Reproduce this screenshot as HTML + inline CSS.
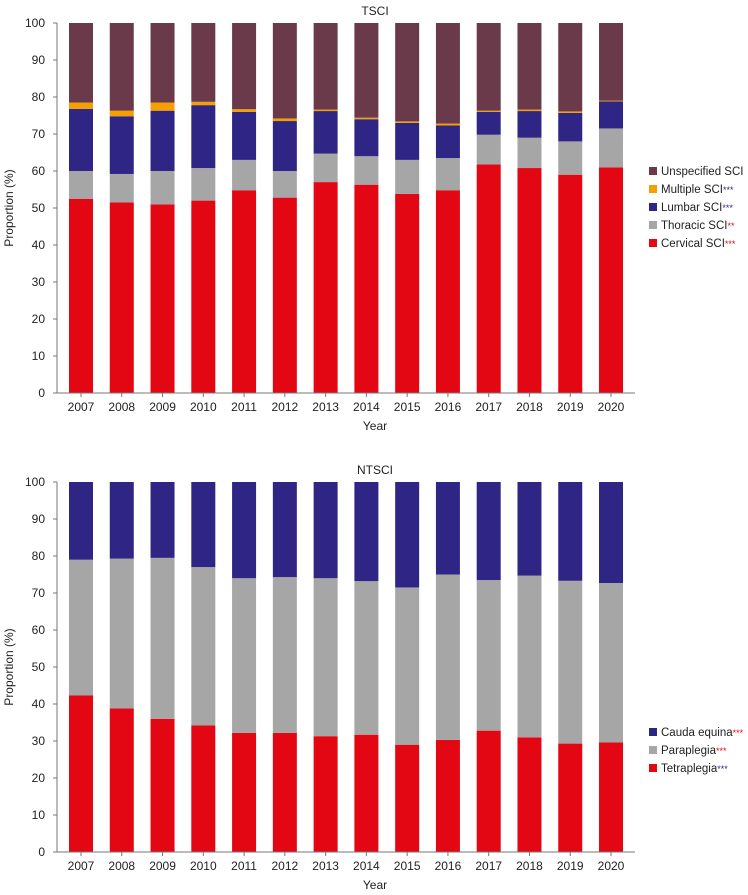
<!DOCTYPE html>
<html><head><meta charset="utf-8"><style>
body{margin:0;background:#fff;}
svg{display:block;font-family:"Liberation Sans",sans-serif;}
</style></head><body>
<svg id="c" width="748" height="895"></svg>
<script>
const years=["2007","2008","2009","2010","2011","2012","2013","2014","2015","2016","2017","2018","2019","2020"];
const ticks=[0,10,20,30,40,50,60,70,80,90,100];
const cervical=[52.5,51.5,51,52,54.8,52.8,57,56.3,53.8,54.8,61.8,60.8,59,61];
const thoracic=[7.5,7.7,9,8.8,8.2,7.2,7.7,7.7,9.2,8.7,8,8.2,9,10.5];
const lumbar=[16.8,15.6,16.3,17,13,13.5,11.5,10,10,8.8,6.2,7.2,7.7,7.3];
const multiple=[1.7,1.5,2.2,0.9,0.7,0.7,0.4,0.4,0.4,0.5,0.3,0.4,0.4,0.2];
const tetraplegia=[42.3,38.8,36,34.2,32.2,32.2,31.3,31.7,29,30.3,32.8,31,29.3,29.6];
const paraplegia=[36.7,40.5,43.5,42.8,41.8,42.1,42.7,41.5,42.5,44.7,40.7,43.7,44,43.1];
const NS="http://www.w3.org/2000/svg";
const svg=document.getElementById('c');
function mk(t,a,p){const e=document.createElementNS(NS,t);for(const k in a)e.setAttribute(k,a[k]);(p||svg).appendChild(e);return e;}
function chart(top,title,series,legend,legY){
  const y0=top+370, y=v=>y0-3.7*v, x=i=>81+i*40.77;
  const g=mk('g',{});
  
  
  const t=mk('text',{x:375,y:top-8,'text-anchor':'middle','font-size':12,fill:'#222'},g);t.textContent=title;
  
  ticks.forEach(v=>{mk('line',{x1:53,x2:57,y1:y(v),y2:y(v),stroke:'#777'},g);
    const l=mk('text',{x:45,y:y(v)+4,'text-anchor':'end','font-size':12,fill:'#222'},g);l.textContent=v;
    });
  const yt=mk('text',{x:0,y:0,'text-anchor':'middle','font-size':12,fill:'#222',transform:`translate(13,${y(50)}) rotate(-90)`},g);
  yt.textContent='Proportion (%)';
  years.forEach((yr,i)=>{
    let acc=0;
    series.forEach(s=>{
      const v=s.data?s.data[i]:100-acc;
      const r=mk('rect',{x:x(i)-12,y:y(acc+v),width:24,height:3.7*v,fill:s.color},g);
      
      acc+=v;});
    mk('line',{x1:x(i),x2:x(i),y1:y0,y2:y0+4,stroke:'#777'},g);
    const l=mk('text',{x:x(i),y:y0+18,'text-anchor':'middle','font-size':12,fill:'#222'},g);l.textContent=yr;
    
  });
  mk('line',{x1:57,y1:y(0),x2:57,y2:y(100),stroke:'#777'},g);
  mk('line',{x1:57,y1:y(0),x2:635,y2:y(0),stroke:'#777'},g);
  const xt=mk('text',{x:375,y:y0+37,'text-anchor':'middle','font-size':12,fill:'#222'},g);xt.textContent='Year';
  
  legend.forEach((L,k)=>{
    const ly=legY+k*18;
    mk('rect',{x:649,y:ly-8,width:8,height:8,fill:L.color},g);
    const tx=mk('text',{x:661,y:ly,'font-size':11.5,fill:'#222'},g);
    tx.textContent=L.label;
    if(L.star){const ts=mk('tspan',{fill:L.starColor,'font-size':9},tx);ts.textContent=L.star;}
    
  });
}
const R='#e30613',G='#a6a6a6',B='#2e2585',O='#f5a000',U='#6b3a4a';
chart(23,'TSCI',[{key:'cervical',data:cervical,color:R},{key:'thoracic',data:thoracic,color:G},{key:'lumbar',data:lumbar,color:B},{key:'multiple',data:multiple,color:O},{key:'unspecified',color:U}],
 [{label:'Unspecified SCI',color:U},{label:'Multiple SCI',color:O,star:'***',starColor:B},{label:'Lumbar SCI',color:B,star:'***',starColor:B},{label:'Thoracic SCI',color:G,star:'**',starColor:R},{label:'Cervical SCI',color:R,star:'***',starColor:R}],175);
chart(482,'NTSCI',[{key:'tetraplegia',data:tetraplegia,color:R},{key:'paraplegia',data:paraplegia,color:G},{key:'cauda-equina',color:B}],
 [{label:'Cauda equina',color:B,star:'***',starColor:R},{label:'Paraplegia',color:G,star:'***',starColor:R},{label:'Tetraplegia',color:R,star:'***',starColor:B}],736);
</script>
</body></html>
